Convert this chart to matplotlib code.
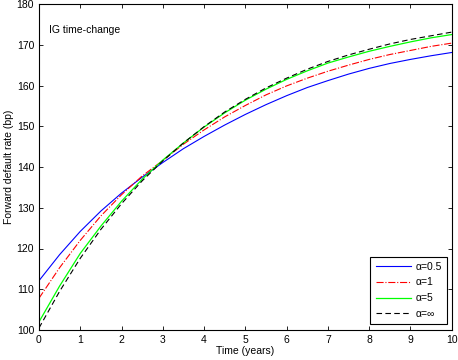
import matplotlib
matplotlib.use("Agg")
import matplotlib.pyplot as plt

plt.rcParams['font.family'] = ['Liberation Sans', 'DejaVu Sans']

t = [0, 0.5, 1, 1.5, 2, 2.5, 3, 3.5, 4, 4.5, 5, 5.5, 6, 6.5, 7, 7.5, 8, 8.5, 9, 9.5, 10]
alpha_05 = [112.1, 118.5, 124.2, 129.2, 133.6, 137.5, 141.1, 144.5, 147.5, 150.3, 152.9,
            155.3, 157.5, 159.5, 161.2, 162.8, 164.2, 165.4, 166.4, 167.3, 168.1]
alpha_1 = [107.8, 115.3, 122.0, 128.0, 133.2, 137.8, 141.6, 145.6, 149.1, 152.3, 155.1,
           157.7, 159.9, 161.8, 163.5, 165.0, 166.4, 167.6, 168.6, 169.6, 170.4]
alpha_5 = [102.0, 110.8, 118.8, 125.5, 131.6, 137.0, 141.7, 145.9, 149.8, 153.3, 156.4,
           159.1, 161.5, 163.6, 165.5, 167.0, 168.4, 169.6, 170.7, 171.7, 172.5]
alpha_inf = [100.5, 109.5, 117.6, 124.7, 131.0, 136.6, 141.5, 145.9, 149.9, 153.5, 156.6,
             159.4, 161.8, 164.0, 165.9, 167.5, 168.9, 170.2, 171.3, 172.2, 173.1]
labels = ['α=0.5', 'α=1', 'α=5', 'α=∞']

fig = plt.figure(figsize=(4.58, 3.6), dpi=100)
ax = fig.add_axes([39/458, 1-330/360, (451.7-39)/458, (330-4)/360])

ax.plot(t, alpha_05, color='#0000ff', lw=0.8, label=labels[0])
ax.plot(t, alpha_1, color='#ff0000', lw=0.8, ls='-.', label=labels[1])
ax.plot(t, alpha_5, color='#00ff00', lw=0.9, label=labels[2])
ax.plot(t, alpha_inf, color='black', lw=0.8, ls=(0, (5, 3)), label=labels[3])

ax.set_xlim(0, 10)
ax.set_ylim(100, 180)
ax.set_xticks(range(0, 11))
ax.set_yticks(range(100, 181, 10))
ax.tick_params(direction='in', top=True, right=True, labelsize=7.5, length=3, width=0.6)
for s in ax.spines.values():
    s.set_linewidth(0.8)

ax.set_xlabel('Time (years)', fontsize=7.5, labelpad=1)
ax.set_ylabel('Forward default rate (bp)', fontsize=7.5, labelpad=2)
ax.text(0.024, 0.92, 'IG time-change', transform=ax.transAxes, fontsize=7.5, va='center')

leg = ax.legend(loc='lower right', bbox_to_anchor=(0.988, 0.018), borderaxespad=0,
                fontsize=7.5, fancybox=False, edgecolor='black', framealpha=1,
                handlelength=3.4, handletextpad=0.4, labelspacing=0.55, borderpad=0.5)
leg.get_frame().set_linewidth(0.8)

fig.savefig('out.png', dpi=100)
